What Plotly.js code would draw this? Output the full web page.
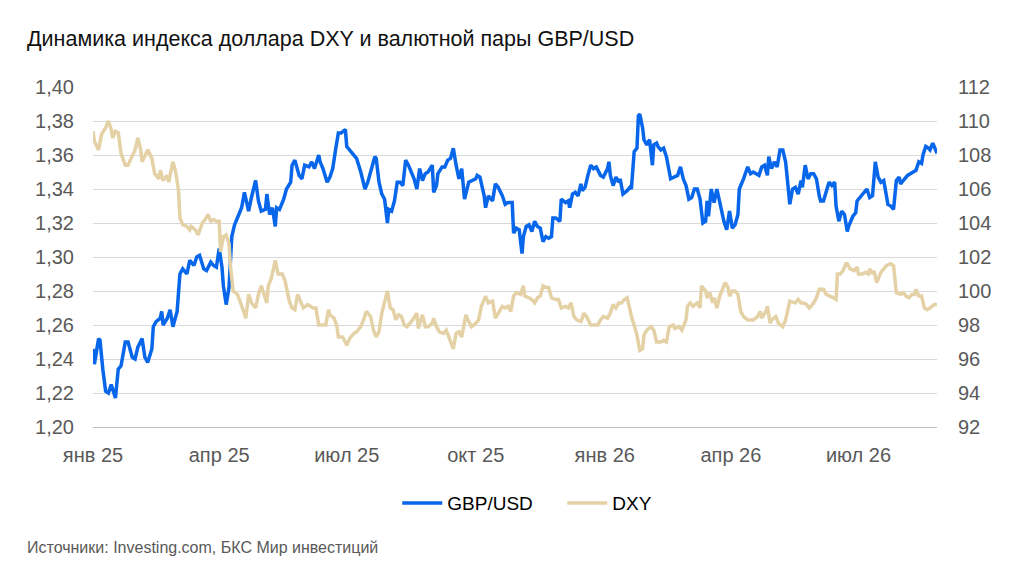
<!DOCTYPE html>
<html>
<head>
<meta charset="utf-8">
<script src="https://cdn.plot.ly/plotly-3.0.1.min.js"></script>
<style>
  html, body { margin: 0; padding: 0; background: #fff; }
  #chart { width: 1024px; height: 571px; }
</style>
</head>
<body>
<div id="chart"></div>
<script>
// day = days since startDate
var startDate = Date.UTC(2025, 0, 1);

var gbpUsd = [
  [0,1.246],[1,1.237],[4,1.252],[5,1.251],[7,1.234],[9,1.221],[11,1.220],[13,1.225],[16,1.217],[18,1.234],
  [20,1.236],[23,1.250],[25,1.250],[28,1.241],[30,1.240],[32,1.247],[35,1.252],[37,1.241],[39,1.238],[42,1.246],
  [43,1.259],[45,1.262],[48,1.264],[49,1.268],[50,1.260],[53,1.264],[55,1.269],[57,1.259],[60,1.268],[62,1.290],
  [64,1.293],[67,1.290],[69,1.298],[72,1.295],[74,1.300],[76,1.301],[79,1.293],[81,1.292],[84,1.297],[86,1.295],
  [88,1.294],[90,1.305],[92,1.294],[93,1.283],[95,1.272],[97,1.282],[99,1.312],[101,1.319],
  [104,1.325],[106,1.329],[108,1.338],[111,1.327],[113,1.335],[116,1.345],[118,1.333],[120,1.327],[123,1.328],[124,1.337],
  [126,1.325],[128,1.329],[130,1.318],[131,1.329],[133,1.328],[136,1.334],[138,1.340],[141,1.344],[142,1.354],[144,1.357],
  [147,1.348],[149,1.346],[151,1.354],[154,1.353],[156,1.356],[158,1.352],[161,1.360],[162,1.356],[164,1.352],[167,1.344],
  [169,1.347],[171,1.352],[173,1.363],[175,1.373],[177,1.373],[180,1.375],[181,1.365],[183,1.363],[186,1.360],[188,1.358],
  [191,1.350],[193,1.344],[194,1.340],[196,1.344],[199,1.352],[201,1.359],
  [202,1.358],[204,1.344],[206,1.337],[208,1.334],[210,1.320],[211,1.328],[213,1.327],[215,1.333],[217,1.344],[219,1.344],
  [221,1.342],[223,1.357],[225,1.354],[227,1.350],[229,1.346],[231,1.340],[233,1.352],[235,1.345],[237,1.349],[239,1.350],
  [242,1.354],[243,1.338],[245,1.342],[246,1.349],[249,1.353],[251,1.353],[253,1.357],[255,1.358],[257,1.364],[259,1.354],
  [261,1.346],[263,1.352],[265,1.334],[268,1.344],[270,1.345],[273,1.346],[274,1.348],[276,1.347],[279,1.336],[280,1.329],
  [282,1.336],[285,1.333],[287,1.343],[289,1.341],[292,1.336],[294,1.331],[296,1.332],[299,1.332],[300,1.314],
  [302,1.317],[304,1.316],[306,1.302],[307,1.312],[309,1.318],[311,1.319],[313,1.315],[315,1.321],[317,1.318],[319,1.317],
  [321,1.309],[323,1.312],[325,1.311],[327,1.312],[328,1.323],[330,1.323],[333,1.321],[334,1.334],[337,1.332],[339,1.333],
  [340,1.329],[342,1.337],[344,1.338],[346,1.336],[348,1.343],[349,1.339],[351,1.341],[353,1.348],[355,1.354],[357,1.352],
  [359,1.353],[362,1.348],[364,1.347],[367,1.352],[368,1.356],[369,1.348],[371,1.342],[373,1.347],[375,1.344],[376,1.346],
  [378,1.337],[381,1.339],[383,1.341],[384,1.340],[386,1.362],[388,1.364],[389,1.383],[390,1.384],[392,1.376],[393,1.369],
  [395,1.366],[397,1.369],[399,1.354],[400,1.366],
  [402,1.367],[403,1.365],[405,1.363],[407,1.364],[409,1.359],[412,1.346],[414,1.347],[417,1.348],[419,1.353],[421,1.346],
  [423,1.342],[425,1.334],[427,1.335],[429,1.340],[431,1.340],[433,1.334],[435,1.320],[437,1.321],[438,1.333],[439,1.324],
  [441,1.340],[443,1.332],[445,1.340],[447,1.333],[449,1.324],[450,1.321],[452,1.316],[454,1.327],[456,1.317],[458,1.319],
  [460,1.325],[461,1.340],[464,1.346],[465,1.348],[467,1.353],[469,1.349],[471,1.350],[473,1.349],[475,1.348],[477,1.353],
  [479,1.354],[481,1.348],[482,1.359],[484,1.352],[486,1.356],[488,1.353],[490,1.363],[492,1.363],[494,1.356],[495,1.348],
  [497,1.331],[499,1.340],
  [501,1.341],[503,1.337],[505,1.345],[506,1.341],[508,1.354],[510,1.346],[512,1.349],[514,1.349],[516,1.346],[518,1.336],
  [519,1.333],[521,1.333],[523,1.338],[525,1.344],[527,1.342],[529,1.344],[530,1.330],[532,1.321],[534,1.327],[536,1.325],
  [538,1.315],[539,1.318],[542,1.324],[544,1.326],[545,1.333],[548,1.336],[550,1.338],[552,1.340],[554,1.335],[556,1.336],
  [557,1.346],[558,1.356],[560,1.347],[562,1.344],[564,1.345],[565,1.340],[567,1.331],[569,1.330],[571,1.328],[573,1.345],
  [575,1.347],[576,1.343],[578,1.345],[581,1.348],[583,1.349],[585,1.350],[587,1.351],[589,1.356],[591,1.355],[592,1.360],
  [594,1.365],[596,1.364],[597,1.363],[599,1.367],[601,1.362],[602,1.361]
];

var dxy = [
  [0,109.4],[1,108.8],[4,108.3],[6,109.2],[9,109.6],[11,110.0],[13,109.5],[14,109.0],[16,109.4],[18,109.3],
  [20,108.1],[23,107.4],[25,107.4],[28,108.0],[30,108.3],[32,109.0],[34,108.3],[35,107.6],[37,108.0],[39,108.3],
  [42,107.8],[44,106.9],[47,106.6],[48,107.1],[50,106.5],[53,106.8],[54,106.4],[57,107.6],[59,107.0],[61,105.9],
  [62,104.3],[64,103.9],[67,103.8],[69,103.6],[70,103.8],[73,103.6],[75,103.3],[78,104.0],[80,104.2],[82,104.5],
  [84,104.1],[86,104.2],[88,104.1],[90,104.1],[91,102.3],[93,103.2],[95,103.3],[97,102.8],[98,101.5],
  [100,100.0],[103,99.8],[105,99.4],[107,98.9],[109,98.4],[111,99.8],[113,99.3],[116,99.0],[118,99.8],[120,100.3],
  [122,99.8],[124,99.3],[125,100.3],[127,100.7],[129,101.4],[130,101.8],[132,101.0],[135,101.0],[137,100.6],[138,100.2],
  [140,99.4],[142,99.0],[144,98.9],[146,99.8],[148,99.4],[150,99.0],[153,99.2],[155,99.1],[157,99.0],[159,99.0],
  [161,98.0],[163,98.0],[166,98.0],[168,98.9],[169,98.6],[172,98.4],[174,97.9],[175,97.3],[178,97.3],[180,97.0],
  [181,96.8],[183,97.2],[186,97.5],[188,97.6],[191,97.9],[193,98.3],[195,98.8],[198,98.5],
  [200,97.7],[202,97.3],[204,97.6],[206,98.7],[208,99.3],[210,100.0],[212,99.0],[214,98.9],[216,98.3],[218,98.6],
  [220,98.5],[222,98.0],[224,97.9],[226,98.1],[228,98.3],[231,98.7],[232,97.8],[235,98.6],[237,97.9],[239,97.9],
  [242,98.1],[243,98.4],[245,97.9],[247,97.6],[250,97.5],[252,97.7],[254,97.3],[255,97.1],[257,96.6],[259,97.5],
  [261,97.6],[263,97.3],[266,98.6],[268,98.2],[270,97.9],[273,98.1],[275,98.3],[277,99.1],[280,99.7],[282,99.3],
  [285,99.4],[287,98.4],[289,98.7],[292,99.1],[294,99.0],[296,99.1],[298,98.8],
  [300,99.7],[302,99.9],[305,99.8],[307,100.3],[308,99.7],[311,99.6],[313,99.5],[315,99.3],[317,99.6],[319,99.7],
  [321,100.3],[323,100.2],[325,100.2],[327,99.6],[330,99.5],[332,99.5],[334,99.0],[337,99.1],[339,99.0],[341,99.3],
  [343,98.5],[345,98.3],[348,98.2],[349,98.4],[350,98.7],[352,98.5],[355,98.0],[357,98.0],[360,98.0],[362,98.3],
  [364,98.5],[367,98.4],[369,98.7],[371,99.2],[373,99.0],[375,99.3],[377,99.3],[379,99.5],[381,99.6],[383,98.9],
  [384,98.5],[386,98.0],[388,97.4],[390,96.5],[392,96.6],[393,97.4],[395,97.7],[398,97.9],[400,97.7],
  [402,97.0],[405,97.0],[407,97.1],[409,97.0],[411,97.9],[414,98.0],[415,97.8],[418,97.9],[420,97.7],[423,98.3],
  [424,99.1],[426,99.3],[428,99.1],[431,99.3],[433,99.0],[434,100.3],[437,100.0],[438,99.6],[440,99.9],[442,99.3],
  [443,99.6],[445,99.0],[447,99.7],[449,100.1],[451,100.5],[453,100.2],[454,99.7],[456,100.0],[458,100.0],[460,99.8],
  [462,98.8],[464,98.5],[467,98.3],[469,98.3],[471,98.3],[474,98.5],[476,98.8],[477,98.4],[480,98.8],[481,99.1],
  [483,98.1],[484,98.3],[487,98.5],[489,98.1],[492,97.9],[494,98.3],[496,99.1],[497,99.4],
  [501,99.3],[503,99.5],[505,99.3],[507,99.3],[509,99.2],[511,99.0],[514,99.3],[516,99.6],[518,100.1],[521,100.1],
  [523,99.8],[526,99.7],[528,99.6],[530,99.5],[531,101.0],[533,101.0],[535,101.2],[537,101.6],[538,101.6],[540,101.3],
  [543,101.2],[545,101.4],[546,101.0],[549,101.0],[551,101.1],[553,101.0],[554,101.3],[556,101.0],[557,101.2],[559,100.5],
  [561,101.0],[562,101.1],[564,101.3],[566,101.5],[569,101.6],[571,101.5],[573,99.9],[576,99.8],[578,99.9],[580,99.7],
  [582,99.6],[584,99.8],[586,99.8],[587,100.1],[589,99.7],[591,99.7],[593,99.0],[595,98.9],[597,99.0],[599,99.1],
  [600,99.2],[602,99.2]
];

// x axis ticks
var tickDates = ['2025-01-01','2025-04-01','2025-07-01','2025-10-01','2026-01-01','2026-04-01','2026-07-01'];
var tickLabels = ['янв 25','апр 25','июл 25','окт 25','янв 26','апр 26','июл 26'];

function toDate(d) {
  return new Date(startDate + d * 86400000).toISOString().slice(0, 10);
}

var font = 'Liberation Sans, Arial, sans-serif';
var grey = '#595959';

var traceDxy = {
  x: dxy.map(function (p) { return toDate(p[0]); }),
  y: dxy.map(function (p) { return p[1]; }),
  name: 'DXY',
  yaxis: 'y2',
  mode: 'lines',
  line: { color: '#e4d2a6', width: 3.5 },
  hoverinfo: 'skip'
};

var traceGbp = {
  x: gbpUsd.map(function (p) { return toDate(p[0]); }),
  y: gbpUsd.map(function (p) { return p[1]; }),
  name: 'GBP/USD',
  mode: 'lines',
  line: { color: '#0866ea', width: 3.5 },
  hoverinfo: 'skip'
};

var layout = {
  width: 1024,
  height: 571,
  margin: { l: 93, r: 87, t: 87, b: 144 },
  paper_bgcolor: '#fff',
  plot_bgcolor: '#fff',
  separators: ', ',
  font: { family: font, color: grey },
  showlegend: true,
  title: {
    text: 'Динамика индекса доллара DXY и валютной пары GBP/USD',
    font: { family: font, size: 21.5, color: '#111' },
    xref: 'container', x: 27 / 1024, xanchor: 'left',
    yref: 'container', y: 1 - 38 / 571, yanchor: 'middle'
  },
  xaxis: {
    type: 'date',
    range: [toDate(0), toDate(602)],
    tickmode: 'array',
    tickvals: tickDates,
    ticktext: tickLabels,
    showgrid: false,
    zeroline: false,
    showline: true,
    linecolor: '#bfbfbf',
    linewidth: 1,
    ticks: '',
    ticklabelstandoff: 10,
    tickfont: { family: font, size: 20, color: grey }
  },
  yaxis: {
    range: [1.2, 1.4],
    dtick: 0.02,
    tick0: 1.2,
    tickformat: '.2f',
    gridcolor: '#d9d9d9',
    gridwidth: 1,
    zeroline: false,
    ticks: '',
    ticklabelstandoff: 18,
    tickfont: { family: font, size: 20, color: grey }
  },
  yaxis2: {
    overlaying: 'y',
    side: 'right',
    range: [92, 112],
    dtick: 2,
    tick0: 92,
    showgrid: false,
    zeroline: false,
    ticks: '',
    ticklabelstandoff: 20,
    tickfont: { family: font, size: 20, color: grey }
  },
  legend: {
    orientation: 'h',
    x: 0.556, xanchor: 'center',
    y: -0.224, yanchor: 'middle',
    traceorder: 'reversed',
    font: { family: font, size: 19, color: '#000' },
    itemwidth: 40,
    entrywidth: 110
  },
  annotations: [{
    text: 'Источники: Investing.com, БКС Мир инвестиций',
    xref: 'paper', x: -0.081, xanchor: 'left',
    yref: 'paper', y: -0.353, yanchor: 'middle',
    showarrow: false,
    font: { family: font, size: 16, color: grey }
  }]
};

Plotly.newPlot('chart', [traceDxy, traceGbp], layout, { staticPlot: true, displayModeBar: false });
</script>
</body>
</html>
